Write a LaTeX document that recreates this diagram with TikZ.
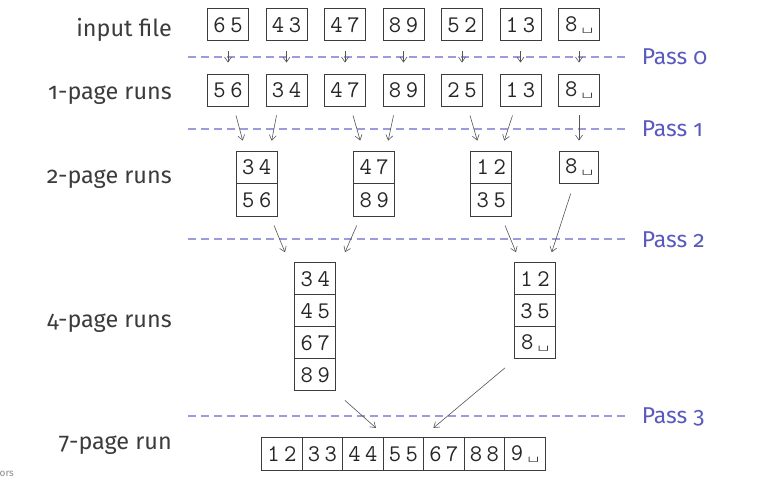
\documentclass[tikz,border=0pt]{standalone}
\usepackage{fontspec}
\newfontfamily\labfont{Fira Sans}[Numbers=OldStyle]
\usetikzlibrary{arrows.meta}
\definecolor{labgray}{RGB}{60,60,60}
\definecolor{passblue}{RGB}{90,90,190}
\definecolor{dashblue}{RGB}{155,155,222}
\definecolor{boxgray}{RGB}{60,60,60}
\definecolor{arrgray}{RGB}{85,85,85}
\newcommand\dd[2]{#1\hspace{4.6bp}#2}
\newcommand\vsp{\scalebox{0.9}[0.6]{\textvisiblespace}}
\tikzset{
  cell/.style={draw=boxgray, line width=0.9bp, minimum width=41bp, minimum height=32bp,
    inner sep=0pt, font=\fontsize{24}{24}\selectfont\ttfamily, text=black!85},
  tallcell/.style={cell, minimum height=32.5bp},
  runcell/.style={cell, minimum width=40.5bp, minimum height=32.3bp},
  rowlabel/.style={anchor=base east, font=\labfont\fontsize{23.5}{24}\selectfont, text=labgray, inner sep=0pt},
  passlabel/.style={anchor=base west, font=\labfont\fontsize{23}{23}\selectfont, text=passblue, inner sep=0pt},
  passline/.style={draw=dashblue, line width=1.6bp, dash pattern=on 8bp off 5bp},
  mergearrow/.style={draw=arrgray, line width=0.6bp, -{Straight Barb[length=5bp,width=7bp]}}
}
\begin{document}
\begin{tikzpicture}[x=1bp,y=-1bp]
\fill[white] (0,0) rectangle (769,483);
\useasboundingbox (0,0) rectangle (769,483);

% row labels
\node[rowlabel] (lab1) at (172,36.7) {input file};
\node[rowlabel] (lab2) at (172,99.3) {1-page runs};
\node[rowlabel] (lab3) at (172,183.3) {2-page runs};
\node[rowlabel] (lab4) at (172,327.3) {4-page runs};
\node[rowlabel] (lab5) at (172,449.3) {7-page run};
\node[anchor=base west, font=\labfont\fontsize{10}{10}\selectfont, text=black!45, inner sep=0pt] (foot) at (-0.5,476) {ors};

% pass lines
\draw[passline] (188,57) -- (625,57);
\draw[passline] (188,129) -- (625,129);
\draw[passline] (188,239.3) -- (625,239.3);
\draw[passline] (188,415.7) -- (625,415.7);
\node[passlabel] (p0) at (641.7,65) {Pass 0};
\node[passlabel] (p1) at (641.7,137) {Pass 1};
\node[passlabel] (p2) at (641.7,247.3) {Pass 2};
\node[passlabel] (p3) at (641.7,423.7) {Pass 3};

% input file
\node[cell] (a1) at (228,24.7) {\dd65};
\node[cell] (a2) at (286.5,24.7) {\dd43};
\node[cell] (a3) at (345,24.7) {\dd47};
\node[cell] (a4) at (403.5,24.7) {\dd89};
\node[cell] (a5) at (462,24.7) {\dd52};
\node[cell] (a6) at (520.5,24.7) {\dd13};
\node[cell] (a7) at (579,24.7) {\dd8\vsp};

% 1-page runs
\node[cell] (b1) at (228,90) {\dd56};
\node[cell] (b2) at (286.5,90) {\dd34};
\node[cell] (b3) at (345,90) {\dd47};
\node[cell] (b4) at (403.5,90) {\dd89};
\node[cell] (b5) at (462,90) {\dd25};
\node[cell] (b6) at (520.5,90) {\dd13};
\node[cell] (b7) at (579,90) {\dd8\vsp};

% 2-page runs
\node[tallcell] (c1a) at (256.7,167.3) {\dd34};
\node[tallcell] (c1b) at (256.7,199.8) {\dd56};
\node[tallcell] (c2a) at (374.2,167.3) {\dd47};
\node[tallcell] (c2b) at (374.2,199.8) {\dd89};
\node[tallcell] (c3a) at (491.3,167.3) {\dd12};
\node[tallcell] (c3b) at (491.3,199.8) {\dd35};
\node[tallcell, minimum width=39.5bp] (c4a) at (579,167.3) {\dd8\vsp};

% 4-page runs
\node[cell] (d1a) at (315.3,278.7) {\dd34};
\node[cell] (d1b) at (315.3,310.7) {\dd45};
\node[cell] (d1c) at (315.3,342.7) {\dd67};
\node[cell] (d1d) at (315.3,374.7) {\dd89};
\node[cell] (d2a) at (535,278.7) {\dd12};
\node[cell] (d2b) at (535,310.7) {\dd35};
\node[cell] (d2c) at (535,342.7) {\dd8\vsp};

% 7-page run
\node[runcell] (e1) at (281.9,453.9) {\dd12};
\node[runcell] (e2) at (322.4,453.9) {\dd33};
\node[runcell] (e3) at (362.9,453.9) {\dd44};
\node[runcell] (e4) at (403.4,453.9) {\dd55};
\node[runcell] (e5) at (443.9,453.9) {\dd67};
\node[runcell] (e6) at (484.4,453.9) {\dd88};
\node[runcell] (e7) at (524.9,453.9) {\dd9\vsp};

% pass 0 arrows
\foreach \i in {1,...,7}{
  \draw[mergearrow] ([yshift=-10bp]a\i.south) -- ([yshift=11bp]b\i.north);
}

% pass 1 arrows
\draw[mergearrow] ([xshift=8bp,yshift=-9bp]b1.south) -- ([xshift=-14bp,yshift=10bp]c1a.north);
\draw[mergearrow] ([xshift=-10bp,yshift=-9bp]b2.south) -- ([xshift=15bp,yshift=10bp]c1a.north);
\draw[mergearrow] ([xshift=8bp,yshift=-9bp]b3.south) -- ([xshift=-14bp,yshift=10bp]c2a.north);
\draw[mergearrow] ([xshift=-10bp,yshift=-9bp]b4.south) -- ([xshift=14bp,yshift=10bp]c2a.north);
\draw[mergearrow] ([xshift=8bp,yshift=-9bp]b5.south) -- ([xshift=-14bp,yshift=10bp]c3a.north);
\draw[mergearrow] ([xshift=-8bp,yshift=-9bp]b6.south) -- ([xshift=13bp,yshift=10bp]c3a.north);
\draw[mergearrow] ([yshift=-9bp]b7.south) -- ([yshift=10bp]c4a.north);

% pass 2 arrows
\draw[mergearrow] ([xshift=17.3bp,yshift=-9bp]c1b.south) -- ([xshift=-30.3bp,yshift=10bp]d1a.north);
\draw[mergearrow] ([xshift=-17.5bp,yshift=-9bp]c2b.south) -- ([xshift=29.7bp,yshift=10bp]d1a.north);
\draw[mergearrow] ([xshift=13.7bp,yshift=-9bp]c3b.south) -- ([xshift=-19bp,yshift=10bp]d2a.north);
\draw[mergearrow] ([xshift=-8.3bp,yshift=-9.6bp]c4a.south) -- ([xshift=16.7bp,yshift=10bp]d2a.north);

% pass 3 arrows
\draw[mergearrow] ([xshift=29.7bp,yshift=-9.3bp]d1d.south) -- ([xshift=13bp,yshift=9.4bp]e3.north);
\draw[mergearrow] ([xshift=-30bp,yshift=-8.7bp]d2c.south) -- ([xshift=30bp,yshift=9.4bp]e4.north);
\end{tikzpicture}
\end{document}
